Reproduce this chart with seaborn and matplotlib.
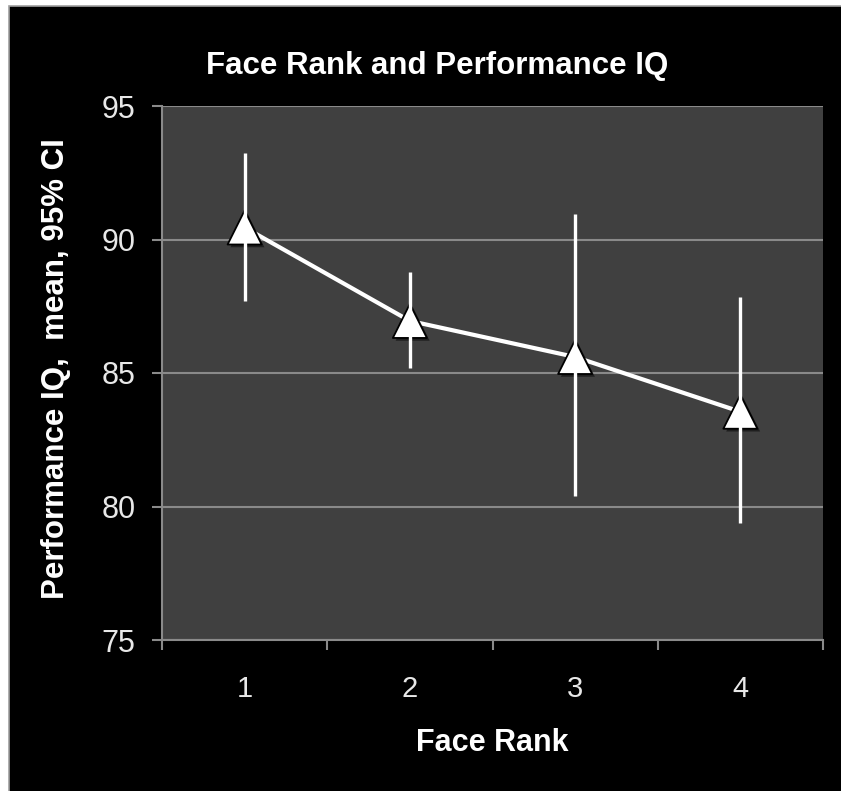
import matplotlib
matplotlib.use("Agg")
import matplotlib.pyplot as plt
import matplotlib.patheffects as pe
from matplotlib.patches import Rectangle
import seaborn as sns
import pandas as pd

# Face rank groups and performance IQ (mean with 95% CI)
face_rank = ["1", "2", "3", "4"]
iq_mean = [90.45, 86.95, 85.6, 83.55]
ci_low = [87.7, 85.2, 80.4, 79.4]
ci_high = [93.25, 88.8, 90.95, 87.85]
y_ticks = [75, 80, 85, 90, 95]

df = pd.DataFrame({"Face Rank": face_rank, "IQ": iq_mean})

sns.set_theme(style="dark")
plt.rcParams["font.family"] = ["Liberation Sans", "DejaVu Sans"]

W, H = 841, 791
fig = plt.figure(figsize=(W / 100, H / 100), dpi=100, facecolor="white")

# black panel with thin grey border
fig.patches.append(Rectangle((8.5 / W, -0.01), 1.1, (H - 5.5) / H + 0.01,
                             transform=fig.transFigure, facecolor="black",
                             edgecolor="#a0a0a0", linewidth=1.2, zorder=-10))

ax = fig.add_axes([162 / W, (H - 640) / H, 661 / W, 534 / H])
ax.set_facecolor("#404040")

shadow = [pe.SimplePatchShadow(offset=(2, -2), shadow_rgbFace="black", alpha=0.5), pe.Normal()]

sns.lineplot(data=df, x="Face Rank", y="IQ", ax=ax, color="white", linewidth=3.0,
             sort=False, zorder=3)
sns.scatterplot(data=df, x="Face Rank", y="IQ", ax=ax, marker="^", s=600,
                color="white", edgecolor="black", linewidth=1.3, zorder=4)
for coll in ax.collections:
    coll.set_path_effects(shadow)

xs = range(len(face_rank))
ax.vlines(list(xs), ci_low, ci_high, color="white", linewidth=2.4, zorder=5)

ax.set_xlim(-0.5, len(face_rank) - 0.5)
ax.set_ylim(y_ticks[0], y_ticks[-1])

ax.set_yticks(y_ticks)
ax.set_yticklabels([str(v) for v in y_ticks])
ax.grid(axis="y", color="#8a8a8a", linewidth=1.5)
ax.grid(axis="x", visible=False)

# tick marks between categories, labels centred on categories
ax.set_xticks([i - 0.5 for i in range(len(face_rank) + 1)])
ax.set_xticklabels([""] * (len(face_rank) + 1))
ax.set_xticks(list(xs), minor=True)
ax.set_xticklabels(face_rank, minor=True)
ax.tick_params(axis="x", which="major", bottom=True, length=7, width=1.5,
               color="#8a8a8a", direction="out")
ax.tick_params(axis="x", which="minor", bottom=True, length=0, pad=25, labelsize=21,
               labelcolor="#e8e8e8")
ax.tick_params(axis="y", left=True, length=7, width=1.5, color="#8a8a8a", direction="out",
               pad=12, labelsize=22, labelcolor="#e8e8e8")

for side in ["top", "right"]:
    ax.spines[side].set_visible(False)
for side in ["left", "bottom"]:
    ax.spines[side].set_visible(True)
    ax.spines[side].set_color("#8a8a8a")
    ax.spines[side].set_linewidth(1.5)

ax.set_xlabel("")
ax.set_ylabel("")
fig.text(492 / W, 1 - 743 / H, "Face Rank", ha="center", va="center",
         fontsize=22, fontweight="bold", color="white")
fig.text(56 / W, 1 - 369 / H, "Performance IQ,  mean, 95% CI", ha="center", va="center",
         rotation=90, fontsize=22.5, fontweight="bold", color="white")
fig.text(437 / W, 1 - 66 / H, "Face Rank and Performance IQ", ha="center", va="center",
         fontsize=22.5, fontweight="bold", color="white")

fig.savefig("out.png", dpi=100, facecolor=fig.get_facecolor())
